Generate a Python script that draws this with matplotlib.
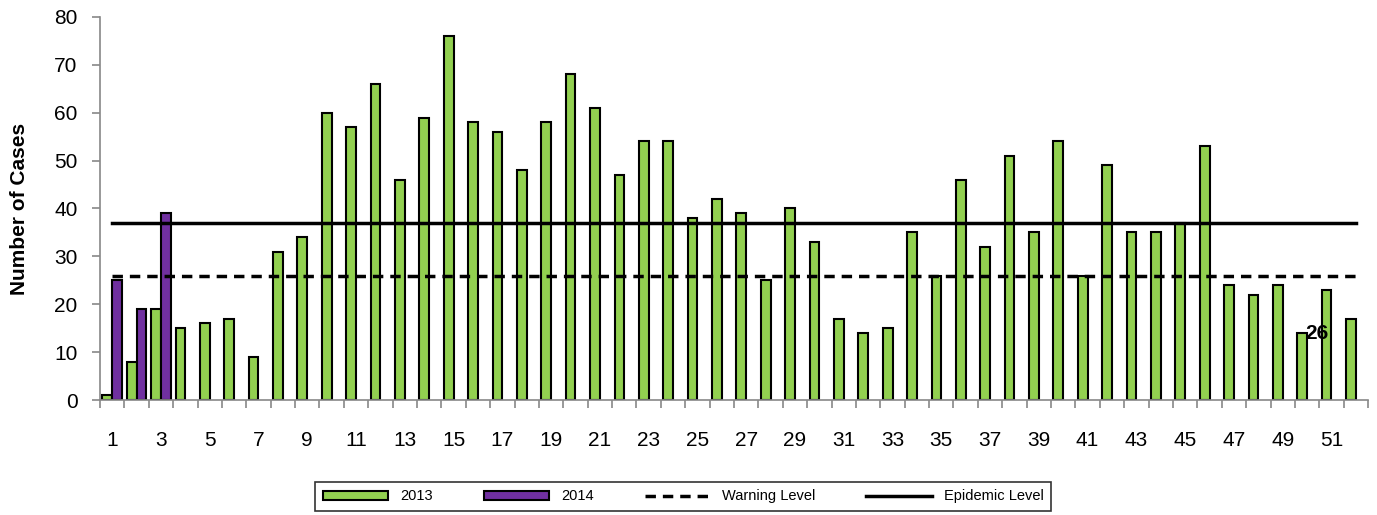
import numpy as np
import matplotlib.pyplot as plt
from matplotlib.ticker import FixedLocator

plt.rcParams['font.family'] = ['Liberation Sans', 'DejaVu Sans']

# weekly case counts
weeks = np.arange(1, 53)
cases_2013 = [1, 8, 19, 15, 16, 17, 9, 31, 34, 60, 57, 66, 46, 59, 76, 58, 56, 48,
              58, 68, 61, 47, 54, 54, 38, 42, 39, 25, 40, 33, 17, 14, 15, 35, 26, 46,
              32, 51, 35, 54, 26, 49, 35, 35, 37, 53, 24, 22, 24, 14, 23, 17]
weeks_2014 = [1, 2, 3]
cases_2014 = [25, 19, 39]
warning_level = 26
epidemic_level = 37

fig = plt.figure(figsize=(13.77, 5.15), dpi=100)
ax = fig.add_axes([0.0726, 0.2233, 0.9209, 0.7437])

w = 0.4
b1 = ax.bar(weeks - w / 2, cases_2013, width=w, color='#92D050', edgecolor='black',
            linewidth=1.5, label='2013', zorder=2)
b2 = ax.bar(np.array(weeks_2014) + w / 2, cases_2014, width=w, color='#7030A0',
            edgecolor='black', linewidth=1.5, label='2014', zorder=2)
l1, = ax.plot([weeks[0], weeks[-1]], [warning_level] * 2, color='black', lw=2.5,
              ls=(0, (3, 2)), label='Warning Level', zorder=3)
l2, = ax.plot([weeks[0], weeks[-1]], [epidemic_level] * 2, color='black', lw=2.5,
              label='Epidemic Level', zorder=3)

ax.text(50.4, 13.8, '26', fontsize=15, fontweight='bold', ha='center', va='center',
        zorder=4)

ax.set_xlim(0.5, 52.5)
ax.set_ylim(0, 80)
ax.set_yticks(range(0, 81, 10))
ax.set_xticks(weeks[::2])
ax.xaxis.set_minor_locator(FixedLocator(np.arange(0.5, 53, 1)))
ax.tick_params(axis='x', which='major', length=0, pad=22, labelsize=15)
ax.tick_params(axis='x', which='minor', length=6, color='#888888', width=1.2)
ax.tick_params(axis='y', length=6, color='#888888', width=1.2, labelsize=15, pad=10)
ax.set_ylabel('Number of Cases', fontsize=15, fontweight='bold', labelpad=18)

for s in ['top', 'right']:
    ax.spines[s].set_visible(False)
for s in ['left', 'bottom']:
    ax.spines[s].set_color('#888888')
    ax.spines[s].set_linewidth(1.2)

leg = fig.legend(handles=[b1, b2, l1, l2], loc='center', bbox_to_anchor=(0.496, 0.036),
                 ncol=4, fontsize=10.5, frameon=True, fancybox=False, edgecolor='black',
                 handlelength=4.5, handleheight=0.6, columnspacing=3.5, borderpad=0.5)
leg.get_frame().set_linewidth(1.2)

fig.savefig('out.png', dpi=100)
